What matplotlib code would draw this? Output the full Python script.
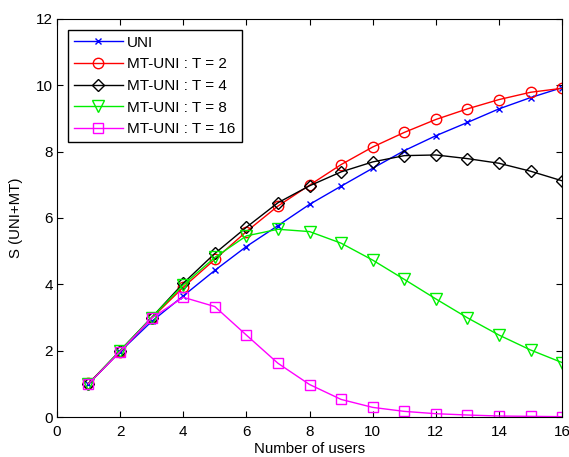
import matplotlib
matplotlib.use("Agg")
import matplotlib.pyplot as plt

users = list(range(1, 17))
uni = [1.0, 1.97, 2.88, 3.65, 4.42, 5.14, 5.77, 6.41, 6.96, 7.50, 8.03, 8.48, 8.88, 9.29, 9.63, 9.93]
mt_t2 = [1.02, 1.97, 2.98, 3.91, 4.75, 5.59, 6.36, 6.99, 7.61, 8.14, 8.58, 8.97, 9.29, 9.57, 9.79, 9.91]
mt_t4 = [1.0, 2.0, 3.0, 4.03, 4.93, 5.72, 6.46, 6.97, 7.39, 7.69, 7.88, 7.90, 7.79, 7.65, 7.41, 7.12]
mt_t8 = [1.0, 2.0, 3.0, 3.98, 4.81, 5.46, 5.66, 5.59, 5.24, 4.73, 4.15, 3.56, 2.99, 2.47, 2.02, 1.64]
mt_t16 = [1.0, 1.97, 2.98, 3.61, 3.33, 2.47, 1.62, 0.98, 0.53, 0.29, 0.17, 0.10, 0.06, 0.03, 0.02, 0.01]

labels = ["UNI", "MT-UNI : T = 2", "MT-UNI : T = 4", "MT-UNI : T = 8", "MT-UNI : T = 16"]
xticks = list(range(0, 17, 2))
yticks = list(range(0, 13, 2))

plt.rcParams['font.family'] = ['Liberation Sans', 'DejaVu Sans']

fig = plt.figure(figsize=(5.69, 4.57), dpi=100)
ax = fig.add_axes([0.100, 0.0875, 0.888, 0.871])

ax.plot(users, uni, color='#0000ff', marker='x', markersize=5, lw=1.0, label=labels[0])
ax.plot(users, mt_t2, color='#ff0000', marker='o', markersize=7.5, mfc='none', lw=1.0, label=labels[1])
ax.plot(users, mt_t4, color='#000000', marker='D', markersize=6.5, mfc='none', lw=1.0, label=labels[2])
ax.plot(users, mt_t8, color='#00ee00', marker='v', markersize=8, mfc='none', lw=1.0, label=labels[3])
ax.plot(users, mt_t16, color='#ff00ff', marker='s', markersize=7.5, mfc='none', lw=1.0, label=labels[4])

ax.set_xlim(0, 16)
ax.set_ylim(0, 12)
ax.set_xticks(xticks)
ax.set_yticks(yticks)
ax.tick_params(direction='in', top=True, right=True, labelsize=11, length=4)
ax.tick_params(axis='x', pad=6)
ax.tick_params(axis='y', pad=3)
ax.set_xlabel("Number of users", fontsize=10.8, labelpad=2)
ax.set_ylabel("S (UNI+MT)", fontsize=10.8, labelpad=9)

leg = ax.legend(loc='upper left', fontsize=11, fancybox=False, edgecolor='black',
                framealpha=1, borderpad=0.4, labelspacing=0.5, handlelength=3.2,
                handletextpad=0.3, bbox_to_anchor=(0.0, 1.0), borderaxespad=0.7)
leg.get_frame().set_linewidth(1.0)

fig.savefig("out.png", dpi=100)
